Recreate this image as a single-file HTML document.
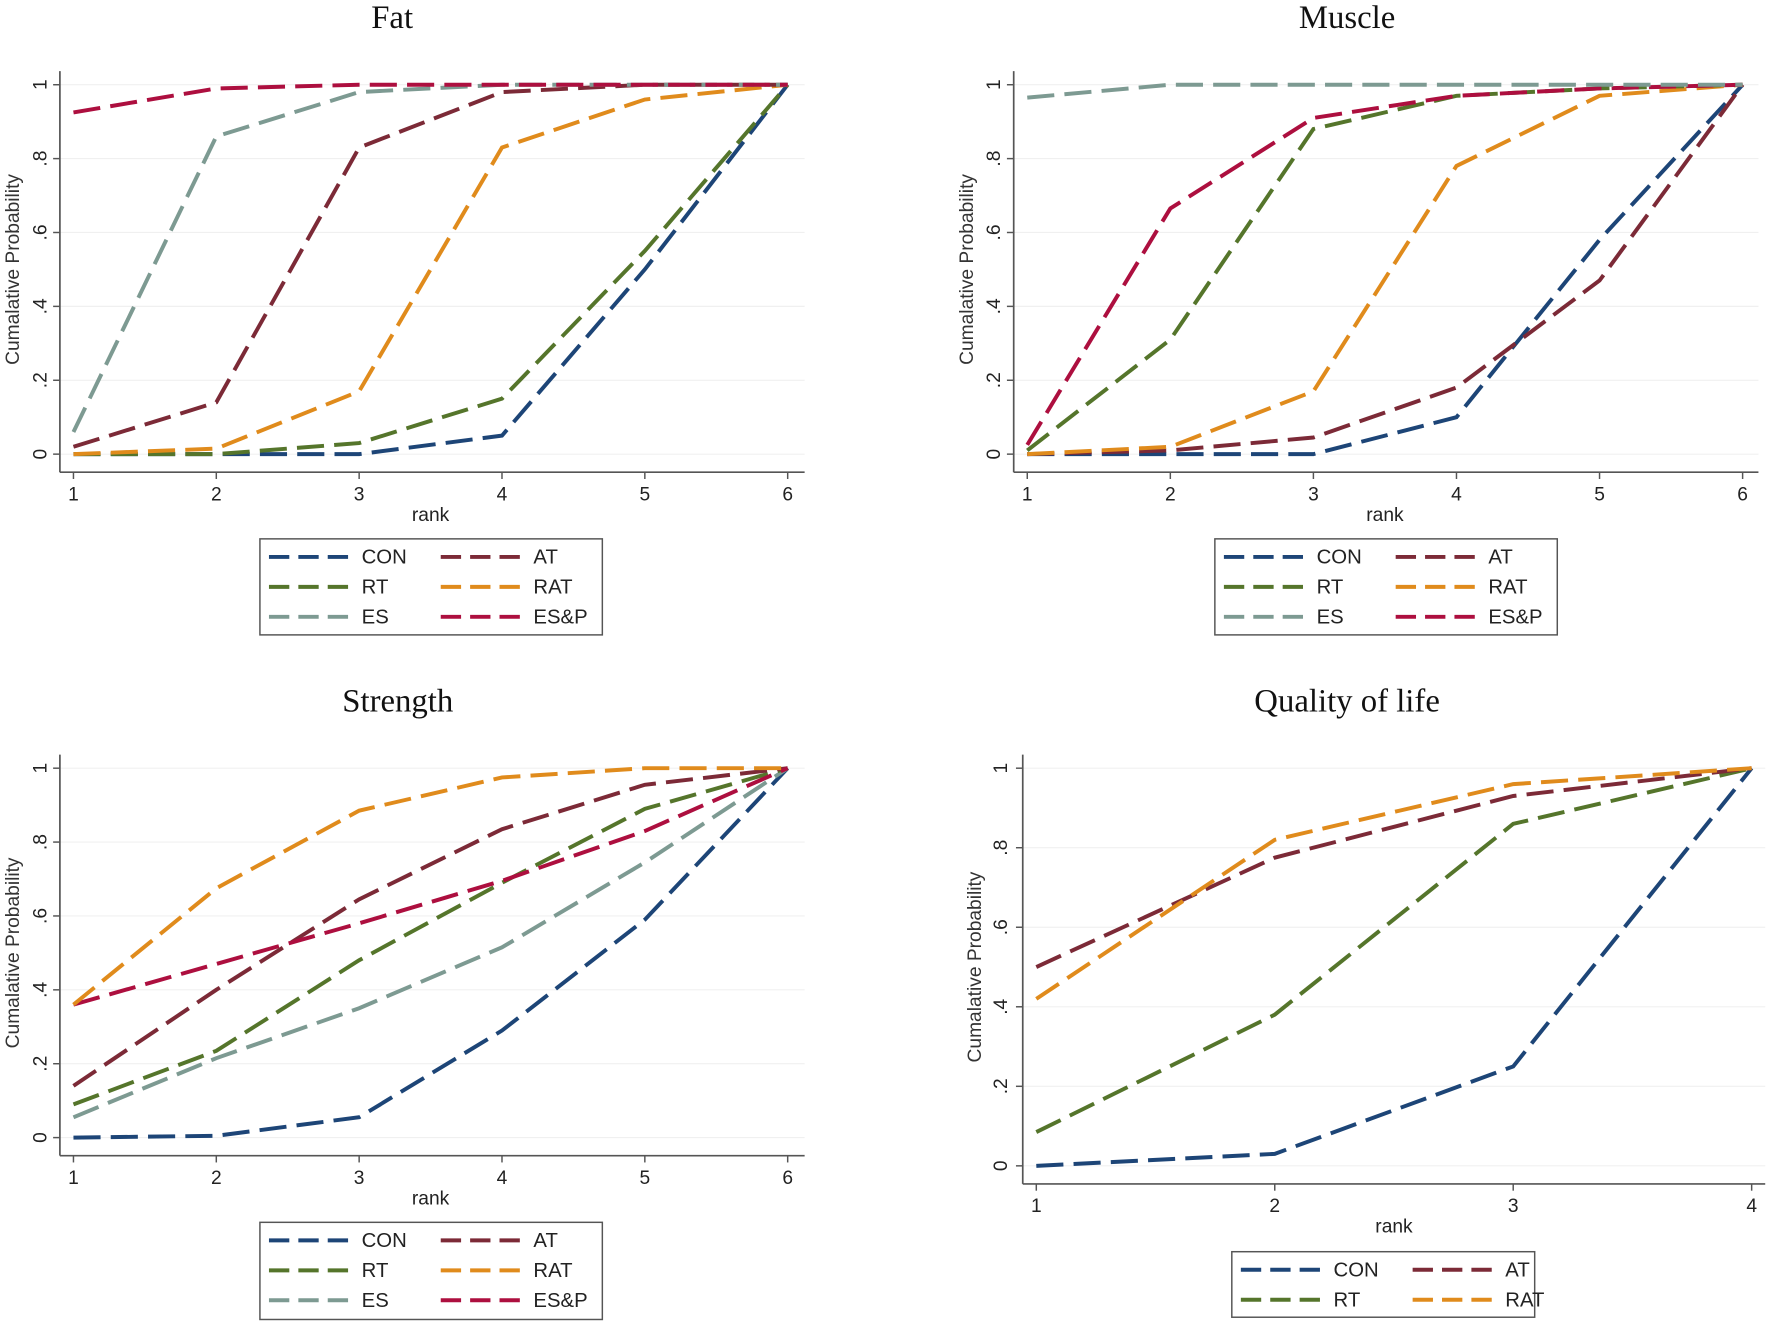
<!DOCTYPE html>
<html><head><meta charset="utf-8"><style>
html,body{margin:0;padding:0;background:#fff;}
svg{display:block}
</style></head><body>
<svg id="s" width="1772" height="1324" viewBox="0 0 1568 1172" preserveAspectRatio="none" xmlns="http://www.w3.org/2000/svg"></svg>
<script>
const C={CON:"#1d4577",RT:"#55752b",ES:"#7d9a92",AT:"#7c2a37",RAT:"#e08b1c","ES&P":"#ad0f3f"};
const panels=[
 {title:"Fat",tx:347,ty:25,ax:53,bot:418,x1:65,xn:697,y0:402,y1:75,top:63,right:712,ytx:35,yt:12,n:6,
  legend:{x:230,y:477,w:303,h:85,items:["CON","AT","RT","RAT","ES","ES&P"]},
  data:{CON:[0,0,0,.05,.5,1],RT:[0,0,.03,.15,.55,1],RAT:[0,.015,.17,.83,.96,1],AT:[.02,.14,.83,.98,1,1],ES:[.06,.86,.98,1,1,1],"ES&P":[.925,.99,1,1,1,1]}},
 {title:"Muscle",tx:1192,ty:25,ax:897,bot:418,x1:909,xn:1542,y0:402,y1:75,top:63,right:1556,ytx:879,yt:856,n:6,
  legend:{x:1075,y:477,w:303,h:85,items:["CON","AT","RT","RAT","ES","ES&P"]},
  data:{CON:[0,0,0,.1,.58,1],AT:[0,.01,.045,.18,.47,1],RAT:[0,.02,.17,.78,.97,1],RT:[.01,.31,.88,.97,.99,1],"ES&P":[.025,.665,.91,.97,.99,1],ES:[.965,1,1,1,1,1]}},
 {title:"Strength",tx:352,ty:630,ax:53,bot:1023,x1:65,xn:697,y0:1007,y1:680,top:668,right:712,ytx:35,yt:12,n:6,
  legend:{x:230,y:1082,w:303,h:86,items:["CON","AT","RT","RAT","ES","ES&P"]},
  data:{CON:[0,.005,.055,.29,.59,1],ES:[.055,.215,.35,.515,.745,1],RT:[.09,.235,.48,.69,.89,1],AT:[.14,.4,.645,.835,.955,1],"ES&P":[.36,.47,.58,.695,.83,1],RAT:[.36,.675,.885,.975,1,1]}},
 {title:"Quality of life",tx:1192,ty:630,ax:905,bot:1048,x1:917,xn:1550,y0:1032,y1:680,top:668,right:1562,ytx:885,yt:863,n:4,
  legend:{x:1090,y:1108,w:268,h:58,items:["CON","AT","RT","RAT"]},
  data:{CON:[0,.03,.25,1],RT:[.085,.38,.86,1],AT:[.5,.775,.93,1],RAT:[.42,.82,.96,1]}}
];
let h="";
const F='font-family="Liberation Sans, Arial, sans-serif"';
for(const p of panels){
 h+=`<text x="${p.tx}" y="${p.ty}" text-anchor="middle" font-family="Liberation Serif, serif" font-size="29" fill="#111">${p.title}</text>`;
 const ys=v=>p.y0+(p.y1-p.y0)*v, xs=i=>p.x1+(p.xn-p.x1)*i/(p.n-1);
 for(let k=0;k<=5;k++){const v=k/5,y=ys(v);
  h+=`<line x1="${p.ax}" x2="${p.right}" y1="${y}" y2="${y}" stroke="#f0f0f0" stroke-width="1"/>`;
  h+=`<line x1="${p.ax-6}" x2="${p.ax}" y1="${y}" y2="${y}" stroke="#555" stroke-width="1.3"/>`;
  const lab=k==0?"0":k==5?"1":"."+(2*k);
  h+=`<text transform="translate(${p.ytx+6},${y}) rotate(-90)" text-anchor="middle" ${F} font-size="17" fill="#222">${lab}</text>`;
 }
 h+=`<line x1="${p.ax}" x2="${p.ax}" y1="${p.top}" y2="${p.bot}" stroke="#555" stroke-width="1.5"/>`;
 h+=`<line x1="${p.ax}" x2="${p.right}" y1="${p.bot}" y2="${p.bot}" stroke="#555" stroke-width="1.5"/>`;
 for(let i=0;i<p.n;i++){const x=xs(i);
  h+=`<line x1="${x}" x2="${x}" y1="${p.bot}" y2="${p.bot+6}" stroke="#555" stroke-width="1.3"/>`;
  h+=`<text x="${x}" y="${p.bot+25}" text-anchor="middle" ${F} font-size="17" fill="#222">${i+1}</text>`;}
 h+=`<text x="${(p.x1+p.xn)/2}" y="${p.bot+43}" text-anchor="middle" ${F} font-size="17" fill="#222">rank</text>`;
 h+=`<text transform="translate(${p.yt+5},${(p.y0+p.y1)/2}) rotate(-90)" text-anchor="middle" ${F} font-size="17" fill="#333">Cumalative Probability</text>`;
 for(const k in p.data){
  const pts=p.data[k].map((v,i)=>xs(i).toFixed(1)+","+ys(v).toFixed(1)).join(" ");
  h+=`<polyline points="${pts}" fill="none" stroke="${C[k]}" stroke-width="3.5" stroke-dasharray="24,9"/>`;
 }
 const L=p.legend;
 h+=`<rect x="${L.x}" y="${L.y}" width="${L.w}" height="${L.h}" fill="#fff" stroke="#555" stroke-width="1.3"/>`;
 L.items.forEach((k,i)=>{const col=i%2,row=Math.floor(i/2);
  const lx=L.x+8+col*(L.w>290?152:152), ly=L.y+16+row*26.5;
  h+=`<line x1="${lx}" x2="${lx+74}" y1="${ly}" y2="${ly}" stroke="${C[k]}" stroke-width="3.5" stroke-dasharray="18,8"/>`;
  h+=`<text x="${lx+82}" y="${ly+6}" ${F} font-size="18" fill="#222">${k.replace("&","&amp;")}</text>`;});
}
document.getElementById("s").innerHTML=h;
</script>
</body></html>
